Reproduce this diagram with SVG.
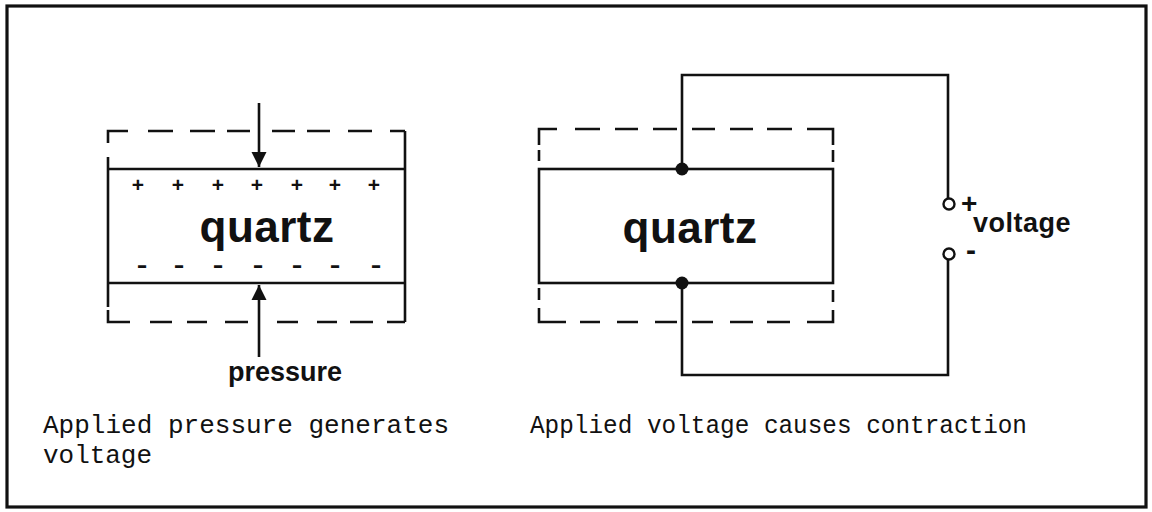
<svg xmlns="http://www.w3.org/2000/svg" width="1152" height="512" viewBox="0 0 1152 512">
<style>
.ln{fill:none;stroke:#111;stroke-width:2.6;stroke-linecap:butt;stroke-linejoin:miter}
.bold{font-family:"Liberation Sans",Arial,sans-serif;font-weight:bold;fill:#111}
.mono{font-family:"Liberation Mono","Courier New",monospace;fill:#111}
</style>
<defs>
<marker id="ah" viewBox="0 0 10 10" refX="10" refY="5" markerWidth="15" markerHeight="19" markerUnits="userSpaceOnUse" orient="auto">
<path d="M0,0 L10,5 L0,10 Z" fill="#111"/>
</marker>
</defs>
<rect width="1152" height="512" fill="#fff"/>
<rect x="7" y="6" width="1139" height="501" fill="none" stroke="#111" stroke-width="3.2"/>

<g id="left-quartz">
<path class="ln" d="M108,157 V307 M108,169 H405 M108,283 H405 M405,131 V322"/>
<path class="ln" d="M108,143 V131 H128 M148,131 H173 M190,131 H215 M227,131 H250 M272,131 H295 M307,131 H330 M348,131 H372 M390,131 H405"/>
<path class="ln" d="M108,310 V322 H130 M150,322 H172 M187,322 H207 M225,322 H248 M277,322 H298 M317,322 H337 M350,322 H373 M387,322 H405"/>
<text class="bold" x="267" y="242" font-size="44" text-anchor="middle" letter-spacing="0.5">quartz</text>
<g class="bold" font-size="21" text-anchor="middle">
<text x="138" y="192">+</text><text x="178" y="192">+</text><text x="218" y="192">+</text><text x="257" y="192">+</text><text x="297" y="192">+</text><text x="335" y="192">+</text><text x="374" y="192">+</text>
</g>
<g class="bold" font-size="22" text-anchor="middle">
<text transform="translate(142,272) scale(1.45,1)">-</text>
<text transform="translate(179,272) scale(1.45,1)">-</text>
<text transform="translate(218,272) scale(1.45,1)">-</text>
<text transform="translate(258,272) scale(1.45,1)">-</text>
<text transform="translate(297,272) scale(1.45,1)">-</text>
<text transform="translate(335,272) scale(1.45,1)">-</text>
<text transform="translate(376,272) scale(1.45,1)">-</text>
</g>
</g>

<g id="pressure-label">
<text class="bold" x="285" y="381" font-size="27" text-anchor="middle">pressure</text>
</g>

<g id="right-quartz">
<rect class="ln" x="539" y="169" width="294" height="114"/>
<path class="ln" d="M539,145 V129 H557 M575,129 H600 M615,129 H638 M653,129 H677 M692,129 H715 M730,129 H753 M767,129 H792 M807,129 H833 V145 M539,150 V161 M833,150 V162"/>
<path class="ln" d="M539,288 V300 M833,290 V302 M539,308 V322 H566 M580,322 H600 M617,322 H638 M655,322 H677 M692,322 H713 M730,322 H753 M767,322 H790 M807,322 H833 V310"/>
<text class="bold" x="690" y="243" font-size="44" text-anchor="middle" letter-spacing="0.5">quartz</text>
</g>

<g id="terminals">
<circle cx="949" cy="204" r="5.5" fill="#fff" stroke="#111" stroke-width="2.4"/>
<circle cx="949" cy="254" r="5.5" fill="#fff" stroke="#111" stroke-width="2.4"/>
<text class="bold" x="961" y="213" font-size="28">+</text>
<text class="bold" x="966" y="260" font-size="30">-</text>
<text class="bold" x="973" y="232" font-size="27" letter-spacing="0.5">voltage</text>
</g>

<g id="connectors">
<line class="ln" x1="259" y1="103" x2="259" y2="167" marker-end="url(#ah)"/>
<line class="ln" x1="259" y1="357" x2="259" y2="285" marker-end="url(#ah)"/>
<path class="ln" d="M682,169 V75 H948 V198.5"/>
<path class="ln" d="M682,283 V375 H948 V259.5"/>
<circle cx="682" cy="169" r="6.5" fill="#111"/>
<circle cx="682" cy="283" r="6.5" fill="#111"/>
</g>

<g id="captions">
<text class="mono" x="43" y="433" font-size="26" textLength="406" lengthAdjust="spacingAndGlyphs">Applied pressure generates</text>
<text class="mono" x="43" y="463" font-size="26" textLength="109" lengthAdjust="spacingAndGlyphs">voltage</text>
<text class="mono" x="530" y="433" font-size="26" textLength="497" lengthAdjust="spacingAndGlyphs">Applied voltage causes contraction</text>
</g>
</svg>
